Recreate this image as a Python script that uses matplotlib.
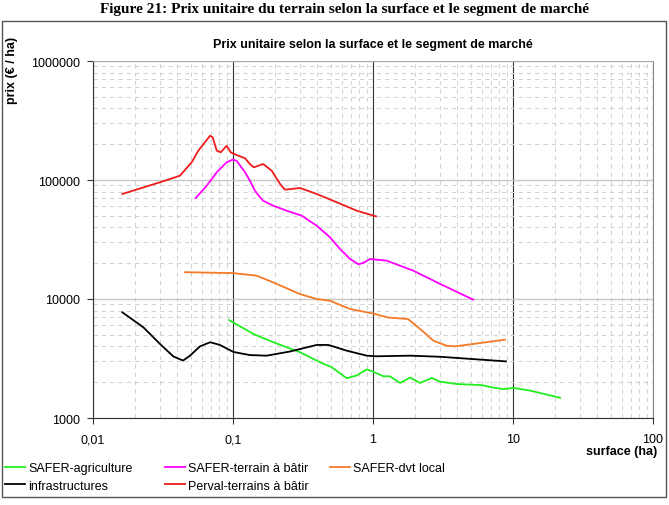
import numpy as np
import matplotlib.pyplot as plt
from matplotlib.patches import Rectangle
from matplotlib.ticker import FixedLocator, FixedFormatter, LogLocator, NullFormatter

plt.rcParams['font.family'] = ['Liberation Sans', 'DejaVu Sans']

# SAFER-agriculture
agri_x = [0.0936, 0.140, 0.194, 0.301, 0.418, 0.507, 0.649, 0.766, 0.902, 1.0, 1.19, 1.32,
          1.56, 1.84, 2.17, 2.63, 3.01, 3.96, 5.98, 7.04, 8.53, 10.05, 13.2, 21.7]
agri_y = [6660, 5080, 4330, 3570, 2940, 2670, 2160, 2280, 2560, 2450, 2240, 2240,
          1970, 2190, 1970, 2170, 2020, 1930, 1890, 1810, 1750, 1790, 1700, 1480]

# SAFER-terrain à bâtir
tab_x = [0.0542, 0.0649, 0.0766, 0.0901, 0.0995, 0.106, 0.122, 0.132, 0.1435, 0.156, 0.164,
         0.194, 0.242, 0.310, 0.396, 0.493, 0.581, 0.686, 0.785, 0.853, 0.953, 1.25, 1.94,
         3.01, 5.2]
tab_y = [70600, 89600, 116100, 140900, 148200, 145300, 116100, 98600, 81300, 71600, 67000,
         60800, 55200, 50100, 41300, 33000, 26300, 21700, 19600, 20100, 21700, 21000, 17300,
         13400, 9870]

# SAFER-dvt local
dvt_x = [0.0454, 0.1005, 0.1476, 0.205, 0.301, 0.396, 0.493, 0.686, 1.0, 1.28, 1.78, 2.17,
         2.70, 3.36, 3.85, 5.2, 8.77]
dvt_y = [16800, 16500, 15700, 13400, 11000, 10000, 9680, 8240, 7550, 6990, 6790, 5600,
         4460, 4050, 4000, 4190, 4550]

# infrastructures
infra_x = [0.0162, 0.0229, 0.0301, 0.0375, 0.044, 0.0493, 0.0581, 0.0686, 0.0807, 0.1005,
           0.132, 0.174, 0.255, 0.396, 0.480, 0.649, 0.902, 1.06, 1.84, 3.01, 8.91]
infra_y = [7730, 5780, 4190, 3290, 3040, 3340, 4000, 4330, 4110, 3590,
           3380, 3340, 3620, 4110, 4110, 3680, 3340, 3300, 3340, 3270, 2990]

# Perval-terrains à bâtir
perval_x = [0.0162, 0.0301, 0.0418, 0.0507, 0.0565, 0.0686, 0.0716, 0.0766, 0.0817, 0.0901,
            0.0964, 0.106, 0.122, 0.132, 0.141, 0.164, 0.189, 0.217, 0.235, 0.301, 0.396,
            0.551, 0.766, 1.05]
perval_y = [76300, 95700, 108700, 140900, 176300, 235600, 228500, 176300, 170800, 194100,
            170800, 162200, 152200, 136300, 127800, 136300, 119700, 92500, 82900, 85700, 76300,
            65000, 55200, 49500]

xticks = [0.01, 0.1, 1, 10, 100]
xlabels = ['0,01', '0,1', '1', '10', '100']
yticks = [1000, 10000, 100000, 1000000]
ylabels = ['1000', '10000', '100000', '1000000']

fig = plt.figure(figsize=(6.69, 5.06), dpi=100)
ax = fig.add_axes([93/669, 1-419/506, 560/669, 357/506])

ax.set_xscale('log')
ax.set_yscale('log')
ax.set_xlim(0.01, 100)
ax.set_ylim(1000, 1000000)

ax.plot(agri_x, agri_y, color='#22ee22', lw=1.3, label='SAFER-agriculture')
ax.plot(tab_x, tab_y, color='#ff00ff', lw=1.3, label='SAFER-terrain à bâtir')
ax.plot(dvt_x, dvt_y, color='#f57a26', lw=1.3, label='SAFER-dvt local')
ax.plot(infra_x, infra_y, color='black', lw=1.3, label='infrastructures')
ax.plot(perval_x, perval_y, color='#ee1c1c', lw=1.3, label='Perval-terrains à bâtir')

ax.xaxis.set_major_locator(FixedLocator(xticks))
ax.xaxis.set_major_formatter(FixedFormatter(xlabels))
ax.yaxis.set_major_locator(FixedLocator(yticks))
ax.yaxis.set_major_formatter(FixedFormatter(ylabels))
for a in (ax.xaxis, ax.yaxis):
    a.set_minor_locator(LogLocator(base=10, subs=np.arange(2, 10), numticks=20))
    a.set_minor_formatter(NullFormatter())

ax.tick_params(which='major', length=4, width=0.8, color='#333333', labelsize=9, pad=5)
ax.tick_params(axis='x', which='major', pad=7)
ax.tick_params(which='minor', length=0)

ax.set_axisbelow(True)
ax.grid(which='minor', color='#d2d2d2', lw=0.75, linestyle=(0, (4, 4)))
ax.grid(which='major', axis='y', color='#c8c8c8', lw=1.0)
ax.grid(which='major', axis='x', color='#333333', lw=0.8)

ax.spines['left'].set_color('#333333')
ax.spines['bottom'].set_color('#333333')
ax.spines['top'].set_color('#aaaaaa')
ax.spines['right'].set_color('#888888')

ax.set_title('Prix unitaire selon la surface et le segment de marché',
             fontsize=9, fontweight='bold', pad=10)
fig.text(12/669, 1-70/506, 'prix (€ / ha)', rotation=90, fontsize=9,
         fontweight='bold', ha='center', va='center')
fig.text(657/669, 1-452/506, 'surface (ha)', fontsize=9, fontweight='bold',
         ha='right', va='center')

# titre de la figure
fig.text(344/669, 1-13/506,
         'Figure 21: Prix unitaire du terrain selon la surface et le segment de marché',
         fontsize=11, fontweight='bold', family='Liberation Serif',
         ha='center', va='baseline')

# cadre du graphique
fig.patches.append(Rectangle((2/669, 1-498/506), 664/669, 476/506,
                             transform=fig.transFigure, fill=False,
                             ec='#555555', lw=1.0))

# légende en trois colonnes
lines = ax.get_lines()
cols = [([lines[0], lines[3]], 5), ([lines[1], lines[4]], 165), ([lines[2]], 330)]
for hs, xpos in cols:
    fig.legend(hs, [h.get_label() for h in hs], loc='upper left',
               bbox_to_anchor=(xpos/669, 1-463/506), frameon=False, fontsize=9,
               handlelength=1.6, handletextpad=0.25, labelspacing=0.45,
               borderpad=0, borderaxespad=0)

fig.savefig('out.png', dpi=100)
